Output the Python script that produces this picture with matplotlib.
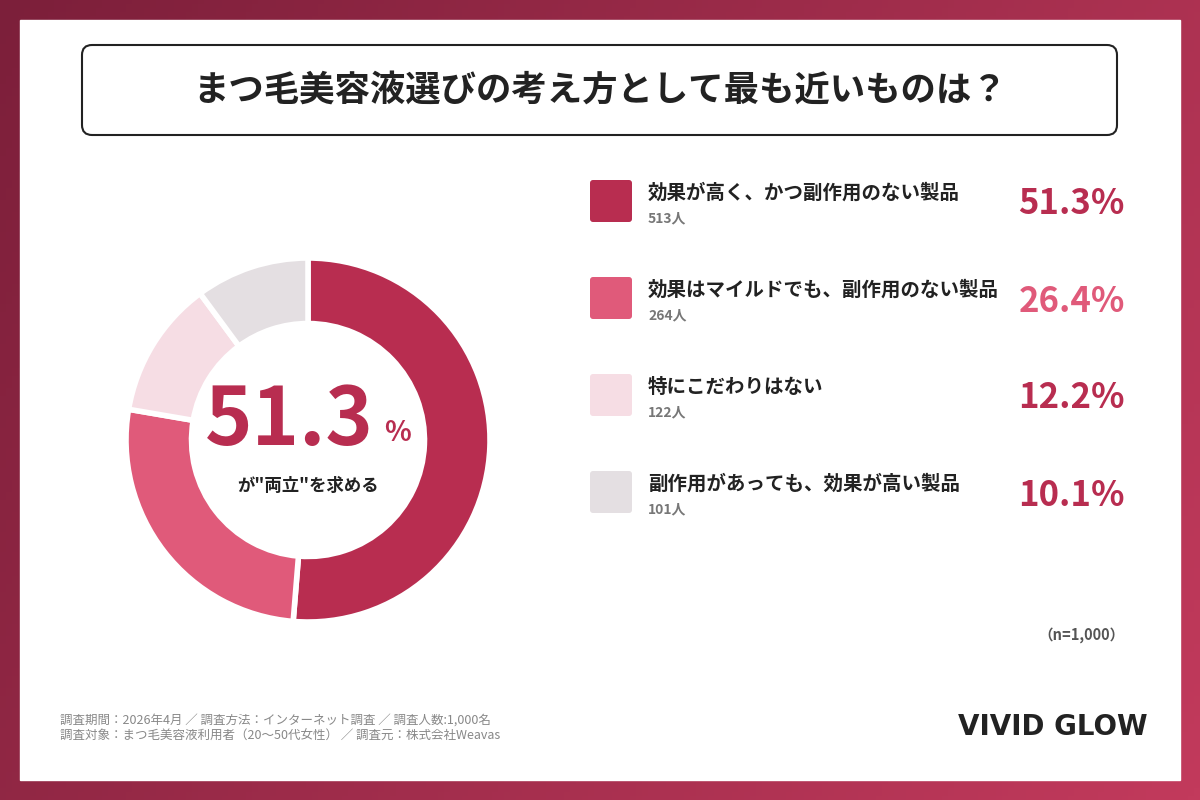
import numpy as np
import matplotlib.pyplot as plt
from matplotlib.patches import FancyBboxPatch, Rectangle
from matplotlib.colors import LinearSegmentedColormap

plt.rcParams['font.family'] = ['Noto Sans CJK JP', 'DejaVu Sans']

labels = ['効果が高く、かつ副作用のない製品', '効果はマイルドでも、副作用のない製品',
          '特にこだわりはない', '副作用があっても、効果が高い製品']
counts = [513, 264, 122, 101]
pcts = [51.3, 26.4, 12.2, 10.1]
colors = ['#b82d50', '#e05a7a', '#f6dde4', '#e4dfe2']
pct_colors = ['#b82d50', '#e05a7a', '#b82d50', '#b82d50']

fig = plt.figure(figsize=(12, 8), dpi=100)

# background gradient
bg = fig.add_axes([0, 0, 1, 1])
gx, gy = np.meshgrid(np.linspace(0, 1, 200), np.linspace(0, 1, 200))
g = gx * 0.7 + gy * 0.3
cmap = LinearSegmentedColormap.from_list('bg', ['#7c1f3a', '#c23a5c'])
bg.imshow(g, cmap=cmap, extent=[0, 1200, 800, 0], aspect='auto')
bg.set_xlim(0, 1200)
bg.set_ylim(800, 0)
bg.axis('off')
bg.add_patch(Rectangle((20, 20), 1160, 760, color='white', zorder=1))
bg.add_patch(FancyBboxPatch((82, 45), 1035, 90, boxstyle='round,pad=0,rounding_size=10',
                            fc='white', ec='#222222', lw=1.5, zorder=2))
bg.text(600, 90, 'まつ毛美容液選びの考え方として最も近いものは？', ha='center', va='center',
        fontsize=25.5, fontweight='bold', color='#222222', zorder=3)

for i in range(4):
    yc = 201 + i * 97
    bg.add_patch(FancyBboxPatch((590, yc - 21), 42, 42, boxstyle='round,pad=0,rounding_size=3',
                                fc=colors[i], ec='none', zorder=3))
    bg.text(648, yc - 8, labels[i], ha='left', va='center', fontsize=14,
            fontweight='bold', color='#222222', zorder=3)
    bg.text(648, yc + 17, f'{counts[i]}人', ha='left', va='center', fontsize=10,
            fontweight='bold', color='#777777', zorder=3)
    bg.text(1125, yc + 3, f'{pcts[i]}%', ha='right', va='center', fontsize=25,
            fontweight='bold', color=pct_colors[i], zorder=3)

bg.text(1125, 635, '（n=1,000）', ha='right', va='center', fontsize=10.5,
        fontweight='bold', color='#555555', zorder=3)
bg.text(60, 720, '調査期間：2026年4月 ／ 調査方法：インターネット調査 ／ 調査人数:1,000名',
        ha='left', va='center', fontsize=9, color='#888888', zorder=3)
bg.text(60, 736, '調査対象：まつ毛美容液利用者（20〜50代女性） ／ 調査元：株式会社Weavas',
        ha='left', va='center', fontsize=9, color='#888888', zorder=3)
bg.text(1148, 727, 'VIVID GLOW', ha='right', va='center', fontsize=20,
        fontweight='bold', color='#222222', zorder=3, family='DejaVu Sans')

# donut
cx, cy, r = 308, 440, 182
ax = fig.add_axes([(cx - r) / 1200, (800 - cy - r) / 800, 2 * r / 1200, 2 * r / 800])
ax.pie(pcts, colors=colors, startangle=90, counterclock=False,
       wedgeprops=dict(width=0.36, edgecolor='white', linewidth=4))
ax.set_xlim(-1, 1)
ax.set_ylim(-1, 1)
ax.set_aspect('equal')
ax.text(-0.1, 0.1, '51.3', ha='center', va='center', fontsize=58, fontweight='bold',
        color='#b82d50')
ax.text(0.49, 0.04, '%', ha='center', va='center', fontsize=20, fontweight='bold',
        color='#b82d50')
ax.text(0, -0.25, 'が"両立"を求める', ha='center', va='center', fontsize=12.5,
        fontweight='bold', color='#222222')

fig.savefig('out.png', dpi=100)
